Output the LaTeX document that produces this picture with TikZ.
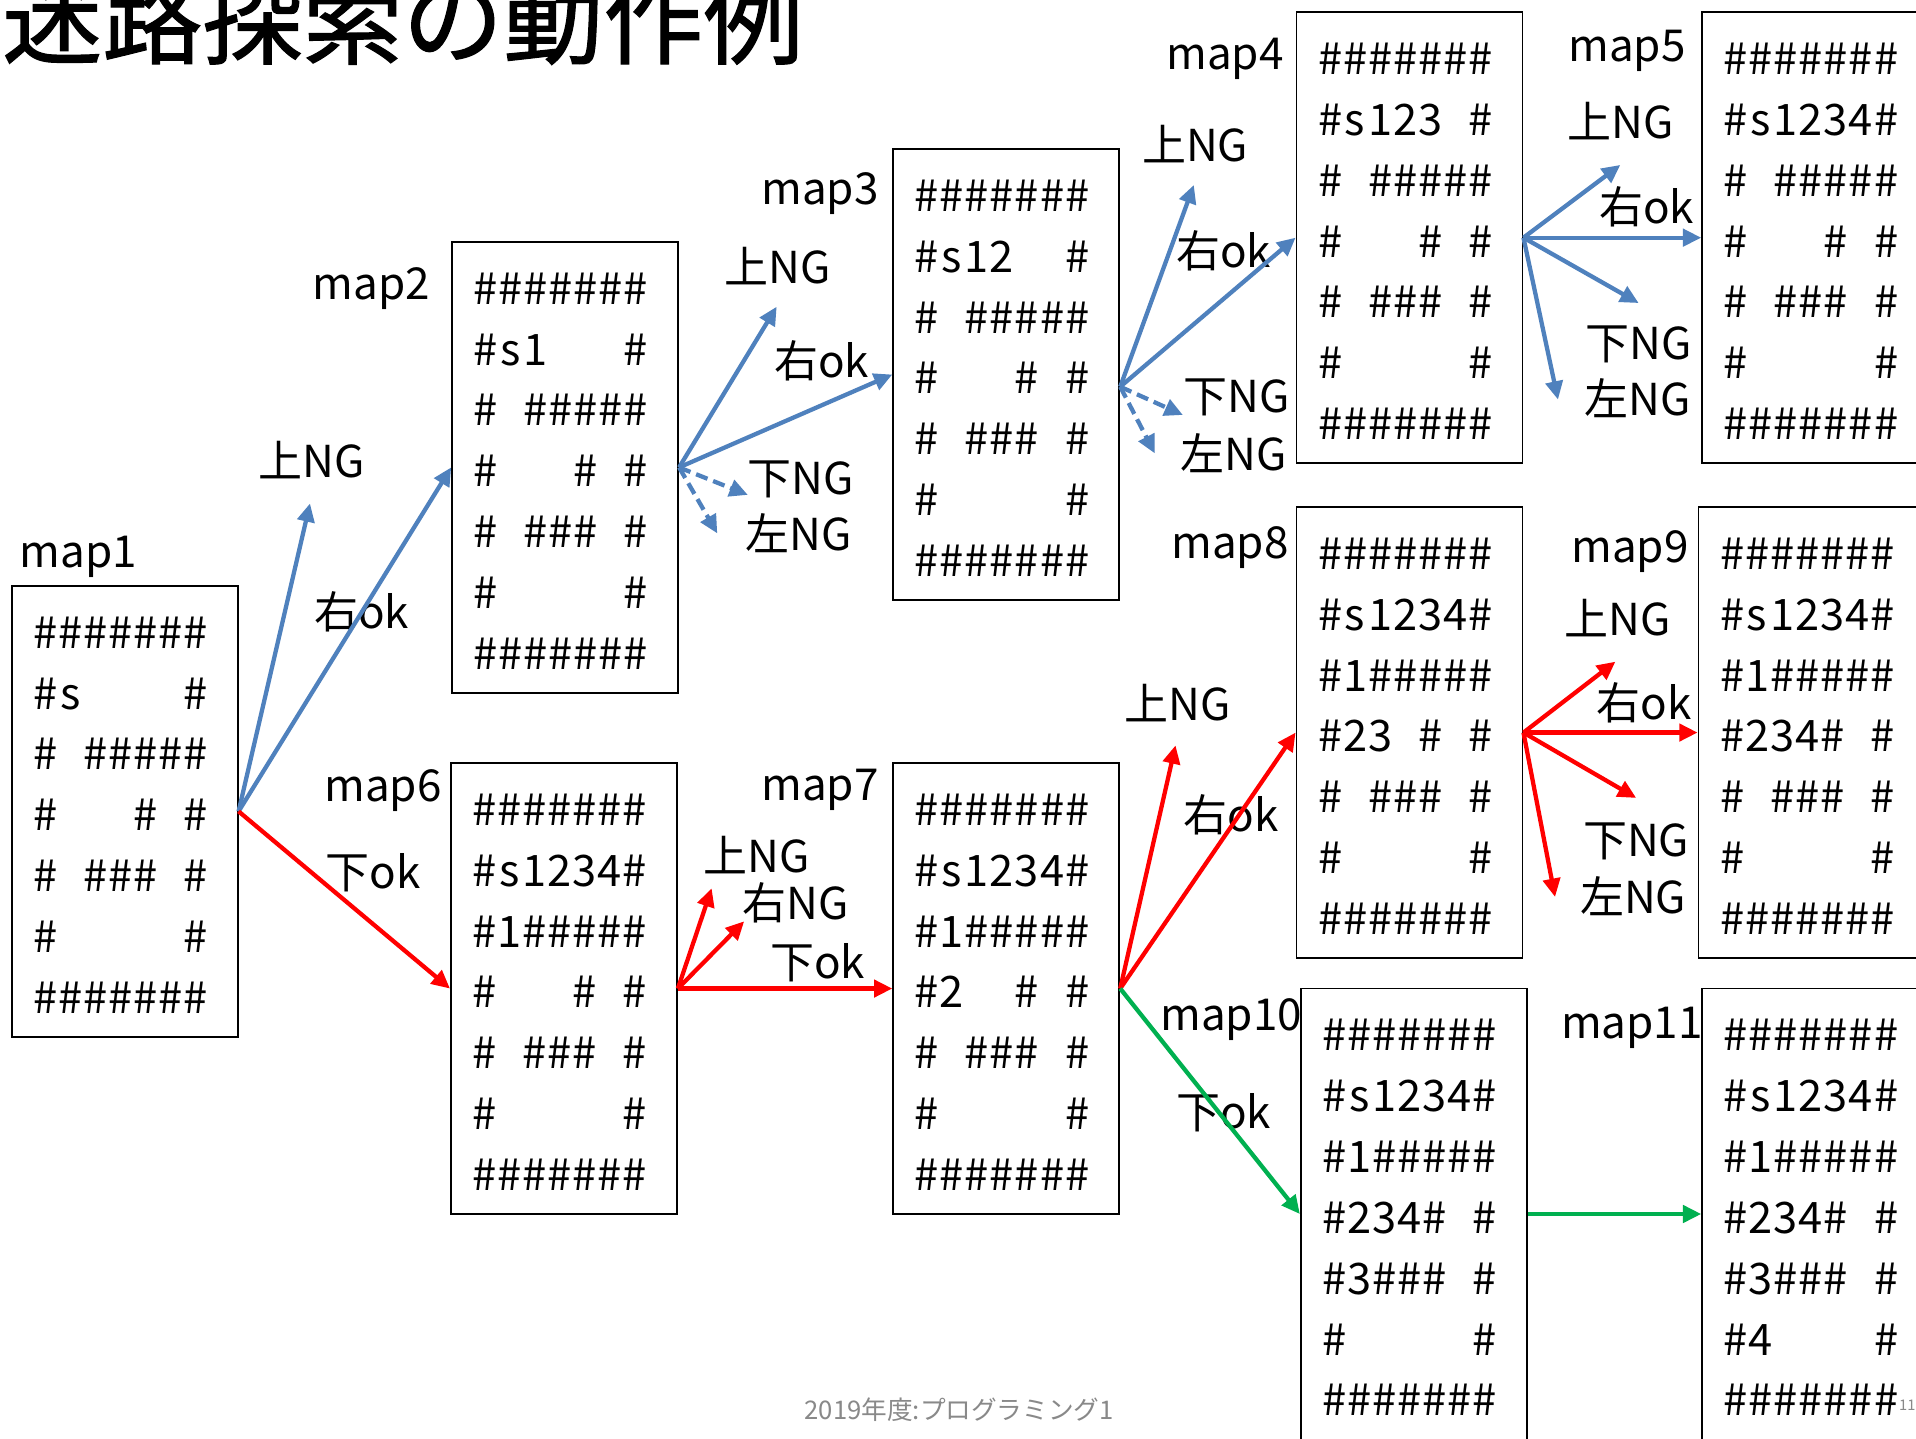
\documentclass[tikz,border=0pt]{standalone}
\usepackage{fontspec}
\setmainfont{Noto Sans CJK JP}
\newfontfamily\titlefont[FakeBold=1.2]{Noto Sans CJK JP}
\usetikzlibrary{arrows.meta,calc}
\definecolor{arrblue}{RGB}{79,129,189}
\definecolor{arrred}{RGB}{255,0,0}
\definecolor{arrgreen}{RGB}{0,176,80}
\definecolor{footgray}{RGB}{137,137,137}
\ExplSyntaxOn
\NewDocumentCommand\gridrow{m}
 {
  \tl_map_inline:nn {#1}
   {
    \makebox[20.5pt]{\str_case:nnF {##1} { {x}{\#} {.}{} } {##1}}
   }
 }
\ExplSyntaxOff
\newcommand\maprows[7]{\gridrow{#1}\\\gridrow{#2}\\\gridrow{#3}\\\gridrow{#4}\\\gridrow{#5}\\\gridrow{#6}\\\gridrow{#7}}
\newcommand\mapfont{\fontsize{35.5pt}{49.8pt}\selectfont}
\newcommand\labfont{\fontsize{36pt}{40pt}\selectfont}
\tikzset{
  mapframe/.style={draw=black, line width=1.5pt, minimum width=185pt, minimum height=369pt, inner sep=0pt},
  maptext/.style={font=\mapfont, align=center, inner sep=0pt},
  lab/.style={font=\labfont, inner sep=0pt},
  arrbase/.style={line width=3.5pt, -{Triangle[length=15pt,width=14pt]}},
  barrow/.style={arrbase, draw=arrblue},
  bdash/.style={barrow, dash pattern=on 10pt off 5pt},
  rarrow/.style={arrbase, draw=arrred},
  garrow/.style={arrbase, draw=arrgreen},
}
\newcommand\mapgrid[4]{%
  \node[mapframe] (#1) at (#2,#3) {};
  \node[maptext] (#1t) at (#2-3.5,#3+3) {#4};
}
\begin{document}
\begin{tikzpicture}[x=1pt,y=-1pt]
\clip (0,0) rectangle (1568,1177);
\fill[white] (0,0) rectangle (1568,1177);

% title and footer
\node[font=\titlefont\fontsize{82pt}{90pt}\selectfont, anchor=base west, inner sep=0pt] (title) at (1.5,46) {迷路探索の動作例};
\node[font=\fontsize{21pt}{24pt}\selectfont, text=footgray, inner sep=0pt] (foot) at (785,1154) {2019年度:プログラミング1};
\node[font=\fontsize{12pt}{14pt}\selectfont, text=footgray, inner sep=0pt, anchor=base west] (pageno) at (1554,1154) {11};

% maps
\mapgrid{m1}{102}{664}{\maprows{xxxxxxx}{xs....x}{x.xxxxx}{x...x.x}{x.xxx.x}{x.....x}{xxxxxxx}}
\mapgrid{m2}{462.5}{382.5}{\maprows{xxxxxxx}{xs1...x}{x.xxxxx}{x...x.x}{x.xxx.x}{x.....x}{xxxxxxx}}
\mapgrid{m3}{823.5}{306.5}{\maprows{xxxxxxx}{xs12..x}{x.xxxxx}{x...x.x}{x.xxx.x}{x.....x}{xxxxxxx}}
\mapgrid{m4}{1153.5}{194.5}{\maprows{xxxxxxx}{xs123.x}{x.xxxxx}{x...x.x}{x.xxx.x}{x.....x}{xxxxxxx}}
\mapgrid{m5}{1485.5}{194.5}{\maprows{xxxxxxx}{xs1234x}{x.xxxxx}{x...x.x}{x.xxx.x}{x.....x}{xxxxxxx}}
\mapgrid{m6}{461.5}{809}{\maprows{xxxxxxx}{xs1234x}{x1xxxxx}{x...x.x}{x.xxx.x}{x.....x}{xxxxxxx}}
\mapgrid{m7}{823.5}{809}{\maprows{xxxxxxx}{xs1234x}{x1xxxxx}{x2..x.x}{x.xxx.x}{x.....x}{xxxxxxx}}
\mapgrid{m8}{1153.5}{599.5}{\maprows{xxxxxxx}{xs1234x}{x1xxxxx}{x23.x.x}{x.xxx.x}{x.....x}{xxxxxxx}}
\mapgrid{m9}{1482.5}{599.5}{\maprows{xxxxxxx}{xs1234x}{x1xxxxx}{x234x.x}{x.xxx.x}{x.....x}{xxxxxxx}}
\mapgrid{m10}{1157}{993.5}{\maprows{xxxxxxx}{xs1234x}{x1xxxxx}{x234x.x}{x3xxx.x}{x.....x}{xxxxxxx}}
\mapgrid{m11}{1485.5}{993.5}{\maprows{xxxxxxx}{xs1234x}{x1xxxxx}{x234x.x}{x3xxx.x}{x4....x}{xxxxxxx}}

% map labels
\node[lab] (n1) at (64,456) {map1};
\node[lab] (n2) at (304,236.5) {map2};
\node[lab] (n3) at (671,158.5) {map3};
\node[lab] (n4) at (1002.5,48.5) {map4};
\node[lab] (n5) at (1331.5,41.5) {map5};
\node[lab] (n6) at (313.5,647) {map6};
\node[lab] (n7) at (671,646.5) {map7};
\node[lab] (n8) at (1006.5,448) {map8};
\node[lab] (n9) at (1334,451) {map9};
\node[lab] (n10) at (1007.5,834.5) {map10};
\node[lab] (n11) at (1335.5,841.5) {map11};

% move labels
\node[lab] (g1u) at (255,376.5) {上NG};
\node[lab] (g1r) at (296,500.5) {右ok};
\node[lab] (g1d) at (305.5,714.5) {下ok};
\node[lab] (g2u) at (636.5,217.5) {上NG};
\node[lab] (g2r) at (672.5,295) {右ok};
\node[lab] (g2d) at (655,392) {下NG};
\node[lab] (g2l) at (653.5,436.5) {左NG};
\node[lab] (g3u) at (978,118) {上NG};
\node[lab] (g3r) at (1001.5,205) {右ok};
\node[lab] (g3d) at (1012,325.5) {下NG};
\node[lab] (g3l) at (1009.5,371) {左NG};
\node[lab] (g4u) at (1326.5,99) {上NG};
\node[lab] (g4r) at (1347.5,169) {右ok};
\node[lab] (g4d) at (1341,281.5) {下NG};
\node[lab] (g4l) at (1340,326) {左NG};
\node[lab] (g6u) at (619,699.5) {上NG};
\node[lab] (g6r) at (651.3,739) {右NG};
\node[lab] (g6d) at (669,787.5) {下ok};
\node[lab] (g7u) at (964,575) {上NG};
\node[lab] (g7r) at (1007.5,667) {右ok};
\node[lab] (g7d) at (1001.5,911) {下ok};
\node[lab] (g8u) at (1323.5,505.5) {上NG};
\node[lab] (g8r) at (1345.5,575.5) {右ok};
\node[lab] (g8d) at (1339,688.5) {下NG};
\node[lab] (g8l) at (1336.5,733) {左NG};

% arrow end points
\coordinate (u1) at (253.7,412);
\coordinate (u2) at (635.6,251);
\coordinate (d2) at (612,405);
\coordinate (l2) at (587,436.5);
\coordinate (o3) at ($(m3.east)+(0,10)$);
\coordinate (u3) at (977,151.4);
\coordinate (d3) at (968,339.6);
\coordinate (l3) at (945,371);
\coordinate (u4) at (1326,135);
\coordinate (d4) at (1341,248);
\coordinate (l4) at (1275,327);
\coordinate (u6) at (582.4,727);
\coordinate (r6) at (609,754);
\coordinate (u7) at (962,610);
\coordinate (u8) at (1322,541.5);
\coordinate (d8) at (1339,653);
\coordinate (l8) at (1272.6,734);

% arrows
\draw[barrow] (m1.east) -- (u1);
\draw[barrow] (m1.east) -- (m2.west);
\draw[rarrow] (m1.east) -- (m6.west);

\draw[barrow] (m2.east) -- (u2);
\draw[barrow] (m2.east) -- (m3.west);
\draw[bdash] (m2.east) -- (d2);
\draw[bdash] (m2.east) -- (l2);

\draw[barrow] (o3) -- (u3);
\draw[barrow] (o3) -- (m4.west);
\draw[bdash] (o3) -- (d3);
\draw[bdash] (o3) -- (l3);

\draw[barrow] (m4.east) -- (u4);
\draw[barrow] (m4.east) -- (m5.west);
\draw[barrow] (m4.east) -- (d4);
\draw[barrow] (m4.east) -- (l4);

\draw[rarrow] (m6.east) -- (u6);
\draw[rarrow] (m6.east) -- (r6);
\draw[rarrow] (m6.east) -- (m7.west);

\draw[rarrow] (m7.east) -- (u7);
\draw[rarrow] (m7.east) -- (m8.west);
\draw[garrow] (m7.east) -- (m10.west);

\draw[rarrow] (m8.east) -- (u8);
\draw[rarrow] (m8.east) -- (m9.west);
\draw[rarrow] (m8.east) -- (d8);
\draw[rarrow] (m8.east) -- (l8);

\draw[garrow] (m10.east) -- (m11.west);
\end{tikzpicture}
\end{document}
